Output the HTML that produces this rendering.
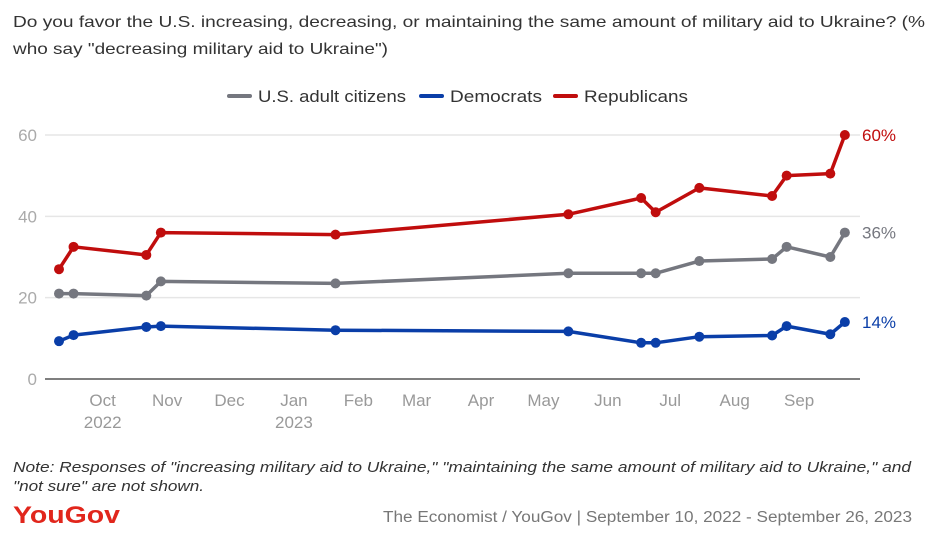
<!DOCTYPE html>
<html><head><meta charset="utf-8">
<style>
body{margin:0;background:#fff;font-family:"Liberation Sans",sans-serif;}
svg text{font-family:"Liberation Sans",sans-serif;}
</style></head>
<body>
<svg id="chart" width="945" height="536" xmlns="http://www.w3.org/2000/svg">
<text x="13" y="27" font-size="16" fill="#333" textLength="912" lengthAdjust="spacingAndGlyphs">Do you favor the U.S. increasing, decreasing, or maintaining the same amount of military aid to Ukraine? (%</text>
<text x="13" y="54" font-size="16" fill="#333" textLength="375" lengthAdjust="spacingAndGlyphs">who say "decreasing military aid to Ukraine")</text>
<g id="legend"></g>
<g id="grid"></g><g id="series"></g>
<text x="13" y="472" font-size="14.5" font-style="italic" fill="#333" textLength="898" lengthAdjust="spacingAndGlyphs">Note: Responses of "increasing military aid to Ukraine," "maintaining the same amount of military aid to Ukraine," and</text>
<text x="13" y="491" font-size="14.5" font-style="italic" fill="#333" textLength="191" lengthAdjust="spacingAndGlyphs">"not sure" are not shown.</text>
<text x="13" y="523" font-size="24" font-weight="bold" fill="#e1261c" textLength="107" lengthAdjust="spacingAndGlyphs">YouGov</text>
<text x="912" y="522" font-size="15.5" fill="#777" text-anchor="end" textLength="529" lengthAdjust="spacingAndGlyphs">The Economist / YouGov | September 10, 2022 - September 26, 2023</text>
</svg>
<script>
const days=[0,7,42,49,133,245,280,287,308,343,350,371,378];
const adults=[21,21,20.5,24,23.5,26,26,26,29,29.5,32.5,30,36];
const democrats=[9.3,10.8,12.8,13,12,11.7,8.9,8.9,10.4,10.7,13,11,14];
const republicans=[27,32.5,30.5,36,35.5,40.5,44.5,41,47,45,50,50.5,60];
const yTicks=[0,20,40,60];
const monthLabels=["Oct","Nov","Dec","Jan","Feb","Mar","Apr","May","Jun","Jul","Aug","Sep"];
const monthDays=[21,52,82,113,144,172,203,233,264,294,325,356];
const yearLabels={"Oct":"2022","Jan":"2023"};
const NS="http://www.w3.org/2000/svg";
const X=d=>59+d*2.079, Y=v=>379-v*4.067;
function mk(t,a,p){const e=document.createElementNS(NS,t);for(const k in a)e.setAttribute(k,a[k]);p.appendChild(e);return e;}
const grid=document.getElementById('grid'), ser=document.getElementById('series'), leg=document.getElementById('legend');
yTicks.forEach(v=>{
  const l=mk('line',{x1:45,x2:860,y1:Y(v),y2:Y(v),stroke:v===0?'#333':'#e6e6e6','stroke-width':v===0?1.2:1.5},grid);
  
  
  const t=mk('text',{x:37,y:Y(v)+6,'font-size':17,fill:'#aaa','text-anchor':'end'},grid);t.textContent=v;
  
  
});
monthLabels.forEach((m,i)=>{
  const t=mk('text',{x:X(monthDays[i]),y:406,'font-size':17,fill:'#999','text-anchor':'middle'},grid);t.textContent=m;
  
  
  if(yearLabels[m]){const y=mk('text',{x:X(monthDays[i]),y:428,'font-size':17,fill:'#999','text-anchor':'middle'},grid);y.textContent=yearLabels[m];
  
  }
});
const S=[["U.S. adult citizens",adults,'#75777f',"adults",148],["Democrats",democrats,'#0a3ea8',"democrats",92],["Republicans",republicans,'#c00d0d',"republicans",104]];
const legX=[229,421,555];
S.forEach((s,i)=>{
  const g=mk('g',{},leg);
  
  
  mk('line',{x1:legX[i],x2:legX[i]+21,y1:96,y2:96,stroke:s[2],'stroke-width':4,'stroke-linecap':'round'},g);
  const t=mk('text',{x:legX[i]+29,y:102,'font-size':16.5,fill:'#333',textLength:s[4],lengthAdjust:'spacingAndGlyphs'},g);t.textContent=s[0];
});
S.forEach(s=>{
  const g=mk('g',{},ser);
  
  
  const pts=days.map((d,i)=>X(d)+','+Y(s[1][i])).join(' ');
  const pl=mk('polyline',{points:pts,fill:'none',stroke:s[2],'stroke-width':3.5,'stroke-linejoin':'round'},g);
  
  
  days.forEach((d,i)=>{const c=mk('circle',{cx:X(d),cy:Y(s[1][i]),r:5,fill:s[2]},g);
    
    });
  const last=s[1][s[1].length-1];
  const t=mk('text',{x:862,y:Y(last)+6,'font-size':17,fill:s[2]},g);t.textContent=Math.round(last)+'%';
  
  
});
</script>
</body></html>
